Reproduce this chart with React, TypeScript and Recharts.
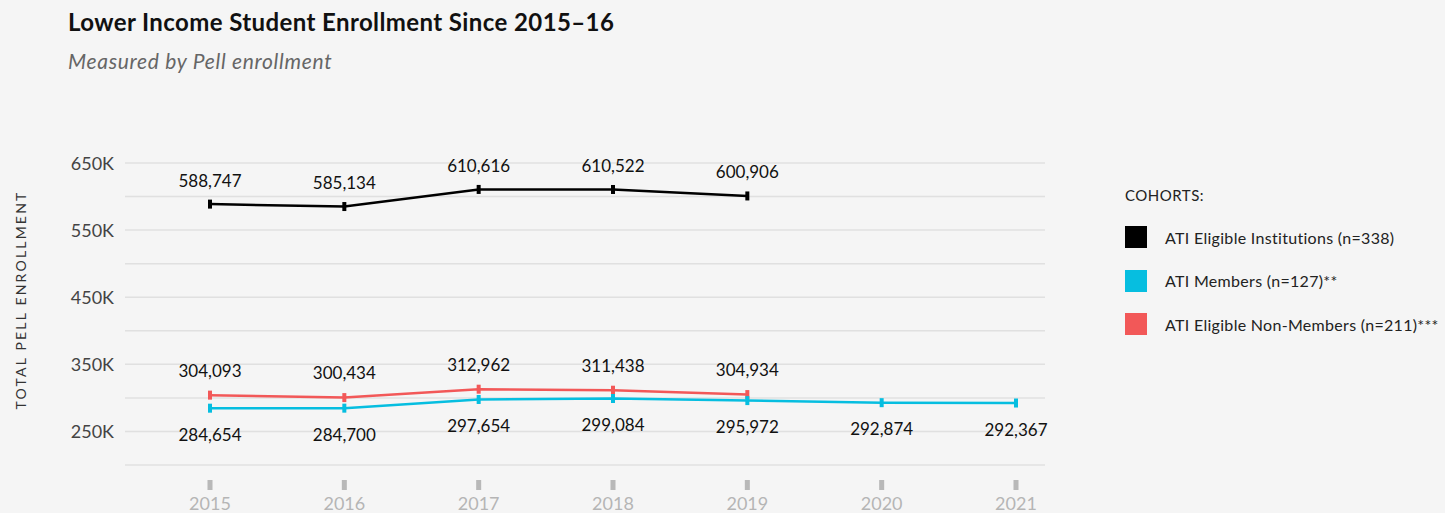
import React from 'react';
import { LineChart, Line, XAxis, YAxis, CartesianGrid, LabelList } from 'recharts';

const years = ['2015', '2016', '2017', '2018', '2019', '2020', '2021'];
const eligible = [588747, 585134, 610616, 610522, 600906, null, null];
const members = [284654, 284700, 297654, 299084, 295972, 292874, 292367];
const nonMembers = [304093, 300434, 312962, 311438, 304934, null, null];
const yTicks = [200000, 250000, 300000, 350000, 400000, 450000, 500000, 550000, 600000, 650000];
const yTickLabels = ['', '250K', '', '350K', '', '450K', '', '550K', '', '650K'];

const seriesNames = ['ATI Eligible Institutions (n=338)', 'ATI Members (n=127)**', 'ATI Eligible Non-Members (n=211)***'];
const seriesColors = ['#000000', '#06bee0', '#f25858'];

const data = years.map((y, i) => ({ year: y, eligible: eligible[i], members: members[i], nonMembers: nonMembers[i] }));

const FONT = 'Lato, "Noto Sans", sans-serif';

const makeDot = (color: string) => (props: any) => {
  const { cx, cy, index, value } = props;
  if (value == null || cy == null || isNaN(cy)) return <g key={`d${index}`} />;
  return <rect key={`d${index}`} x={cx - 2} y={cy - 4.5} width={4} height={9} fill={color} />;
};

const makeLabel = (dy: number) => (props: any) => {
  const { x, y, value, index } = props;
  if (value == null) return null;
  return (
    <text key={`l${index}`} x={x} y={y + dy} textAnchor="middle" dominantBaseline="central" fontSize={17} fill="#111" fontFamily={FONT}>
      {Number(value).toLocaleString('en-US')}
    </text>
  );
};

const XTick = (props: any) => {
  const { x, y, payload } = props;
  return (
    <g>
      <rect x={x - 2.5} y={y + 15} width={5} height={10} fill="#b8b8b8" />
      <text x={x} y={y + 38} textAnchor="middle" dominantBaseline="central" fontSize={18} fill="#b5b5b5" fontFamily={FONT}>
        {payload.value}
      </text>
    </g>
  );
};

const YTick = (props: any) => {
  const { x, y, payload } = props;
  const i = yTicks.indexOf(payload.value);
  const label = i >= 0 ? yTickLabels[i] : '';
  return (
    <text x={x} y={y} textAnchor="end" dominantBaseline="central" fontSize={18} fill="#444" fontFamily={FONT}>
      {label}
    </text>
  );
};

export default function App() {
  return (
    <div style={{ position: 'fixed', top: 0, left: 0, width: 1445, height: 513, background: '#f5f5f5', fontFamily: FONT, overflow: 'hidden' }}>
      <div style={{ position: 'absolute', left: 68, top: 7, fontSize: 24, fontWeight: 700, color: '#111', lineHeight: '30px', letterSpacing: 0.4, whiteSpace: 'nowrap' }}>
        Lower Income Student Enrollment Since 2015–16
      </div>
      <div style={{ position: 'absolute', left: 68, top: 47, fontSize: 21, fontStyle: 'italic', color: '#666', lineHeight: '28px', letterSpacing: 0.7, whiteSpace: 'nowrap' }}>
        Measured by Pell enrollment
      </div>
      <div style={{ position: 'absolute', left: 20, top: 300, transform: 'translate(-50%, -50%) rotate(-90deg)', fontSize: 14, letterSpacing: 2.2, color: '#333', whiteSpace: 'nowrap' }}>
        TOTAL PELL ENROLLMENT
      </div>
      <div style={{ position: 'absolute', left: 0, top: 0 }}>
        <LineChart width={1445} height={513} data={data} margin={{ top: 163, right: 400, left: 0, bottom: 0 }}>
          <CartesianGrid vertical={false} stroke="#e0e0e0" strokeWidth={1.5} />
          <XAxis dataKey="year" axisLine={false} tickLine={false} tickSize={0} tickMargin={0} height={48} padding={{ left: 85, right: 29 }} tick={<XTick />} interval={0} />
          <YAxis type="number" domain={[200000, 650000]} ticks={yTicks} axisLine={false} tickLine={false} tickSize={0} tickMargin={11} width={125} tick={<YTick />} interval={0} />
          <Line dataKey="eligible" stroke={seriesColors[0]} strokeWidth={2.5} dot={makeDot(seriesColors[0])} activeDot={false} isAnimationActive={false}>
            <LabelList dataKey="eligible" content={makeLabel(-24)} />
          </Line>
          <Line dataKey="nonMembers" stroke={seriesColors[2]} strokeWidth={2.5} dot={makeDot(seriesColors[2])} activeDot={false} isAnimationActive={false}>
            <LabelList dataKey="nonMembers" content={makeLabel(-25)} />
          </Line>
          <Line dataKey="members" stroke={seriesColors[1]} strokeWidth={2.5} dot={makeDot(seriesColors[1])} activeDot={false} isAnimationActive={false}>
            <LabelList dataKey="members" content={makeLabel(26)} />
          </Line>
        </LineChart>
      </div>
      <div style={{ position: 'absolute', left: 1125, top: 184, fontSize: 15, color: '#222', letterSpacing: 0.5, lineHeight: '22px' }}>COHORTS:</div>
      {seriesNames.map((n, i) => (
        <div key={n} style={{ position: 'absolute', left: 1125, top: 226 + i * 43.5, height: 22, display: 'flex', alignItems: 'center', whiteSpace: 'nowrap' }}>
          <div style={{ width: 22, height: 22, background: seriesColors[i] }} />
          <div style={{ marginLeft: 18, fontSize: 16, color: '#222', letterSpacing: 0.3 }}>{n}</div>
        </div>
      ))}
    </div>
  );
}
